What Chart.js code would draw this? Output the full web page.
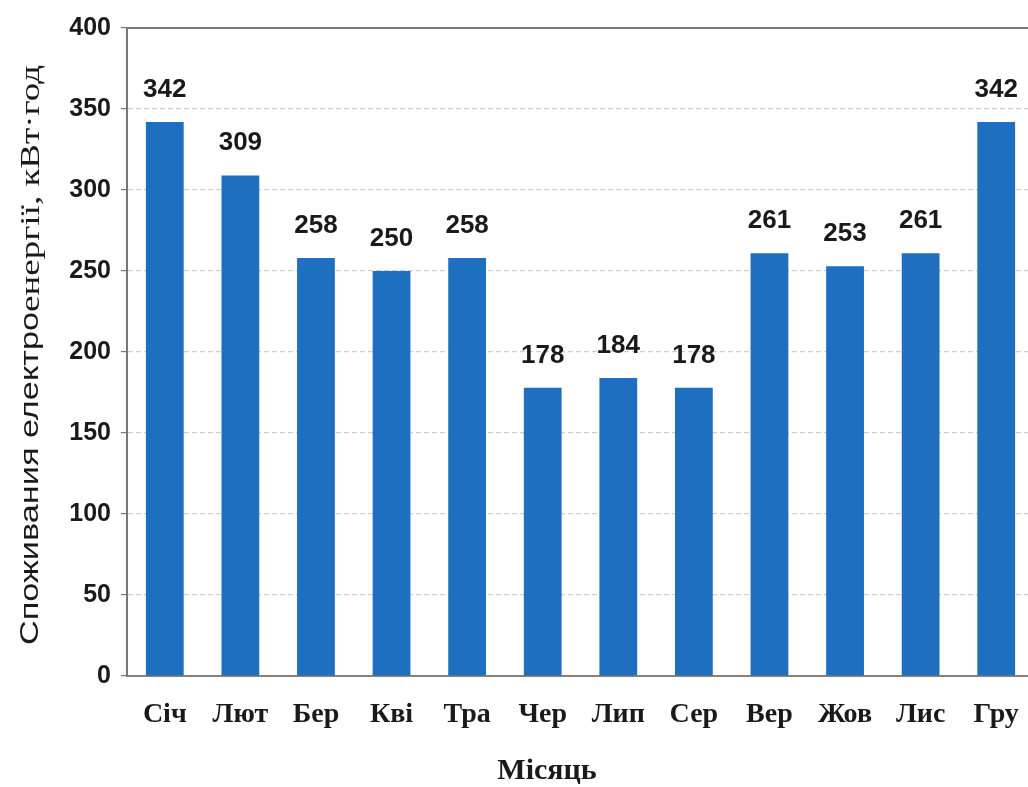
<!DOCTYPE html>
<html lang="uk">
<head>
<meta charset="utf-8">
<title>Споживання електроенергії за місяцями</title>
<script src="https://cdn.jsdelivr.net/npm/chart.js@4/dist/chart.umd.min.js"></script>
<style>
  html, body { margin: 0; padding: 0; background: #ffffff; overflow: hidden; }
  #wrap { width: 1036px; height: 787px; }
</style>
</head>
<body>
<div id="wrap"><canvas id="chart" width="1036" height="787"></canvas></div>
<script>
// Monthly electricity use, kWh
const months = ['Січ', 'Лют', 'Бер', 'Кві', 'Тра', 'Чер', 'Лип', 'Сер', 'Вер', 'Жов', 'Лис', 'Гру'];
const consumption = [342, 309, 258, 250, 258, 178, 184, 178, 261, 253, 261, 342];
const yTicks = [0, 50, 100, 150, 200, 250, 300, 350, 400];

const yTitleSans = 'Споживания електро';
const yTitleSerif = 'енергії, кВт·год';
const xTitle = 'Місяць';

const SANS = '"Liberation Sans", Arial, sans-serif';
const SERIF = '"Liberation Serif", "Times New Roman", serif';
const INK = '#1a1a1a';
const BAR_BLUE = '#1f6fc1';

// Numbers above each bar
const valueLabels = {
  id: 'valueLabels',
  afterDatasetsDraw(chart) {
    const ctx = chart.ctx;
    const meta = chart.getDatasetMeta(0);
    ctx.save();
    ctx.font = 'bold 26px ' + SANS;
    ctx.fillStyle = INK;
    ctx.textAlign = 'center';
    ctx.textBaseline = 'alphabetic';
    meta.data.forEach((bar, i) => {
      ctx.fillText(String(chart.data.datasets[0].data[i]), bar.x, bar.y - 25);
    });
    ctx.restore();
  }
};

// Axis titles: the vertical one is set in two typefaces, read bottom to top,
// and stretched along its length to run from 645px up to 65px
const axisTitles = {
  id: 'axisTitles',
  afterDraw(chart) {
    const ctx = chart.ctx;
    ctx.save();
    ctx.fillStyle = INK;

    ctx.textAlign = 'center';
    ctx.textBaseline = 'middle';
    ctx.font = 'bold 30px ' + SERIF;
    ctx.fillText(xTitle, 547, 771);

    const fSans = '25px ' + SANS;
    const fSerif = '27px ' + SERIF;
    ctx.font = fSans;
    const w1 = ctx.measureText(yTitleSans).width;
    ctx.font = fSerif;
    const w2 = ctx.measureText(yTitleSerif).width;
    const span = 580;
    const stretch = span / (w1 + w2);

    ctx.translate(31, 355);
    ctx.rotate(-Math.PI / 2);
    ctx.scale(stretch, 1);
    ctx.textAlign = 'left';
    const x0 = -(w1 + w2) / 2;
    ctx.font = fSans;
    ctx.fillText(yTitleSans, x0, 0);
    ctx.font = fSerif;
    ctx.fillText(yTitleSerif, x0 + w1, 1);
    ctx.restore();
  }
};

// Frame line along the top of the plot
const topFrame = {
  id: 'topFrame',
  afterDraw(chart) {
    const { ctx, chartArea } = chart;
    ctx.save();
    ctx.strokeStyle = '#7a7a7a';
    ctx.lineWidth = 2;
    ctx.beginPath();
    ctx.moveTo(chartArea.left, chartArea.top);
    ctx.lineTo(chartArea.right, chartArea.top);
    ctx.stroke();
    ctx.restore();
  }
};

new Chart(document.getElementById('chart'), {
  type: 'bar',
  data: {
    labels: months,
    datasets: [{
      data: consumption,
      backgroundColor: BAR_BLUE,
      borderWidth: 0,
      barPercentage: 0.5,
      categoryPercentage: 1.0
    }]
  },
  options: {
    responsive: false,
    animation: false,
    devicePixelRatio: 1,
    layout: { padding: { top: 28, right: 2, bottom: 0, left: 0 } },
    plugins: {
      legend: { display: false },
      tooltip: { enabled: false }
    },
    scales: {
      x: {
        grid: { display: false, drawTicks: false },
        border: { display: true, color: '#8a8078', width: 2 },
        ticks: {
          font: { family: SERIF, size: 28, weight: 'bold' },
          color: INK,
          padding: 22,
          maxRotation: 0,
          autoSkip: false
        },
        afterFit(scale) {
          scale.height = 111;
          scale.paddingLeft = 0;
          scale.paddingRight = 0;
        }
      },
      y: {
        min: 0,
        max: 400,
        afterBuildTicks(scale) { scale.ticks = yTicks.map(v => ({ value: v })); },
        grid: {
          color: '#cfcfcf',
          lineWidth: 1.2,
          tickLength: 6,
          tickColor: '#777777',
          tickBorderDash: [],
          drawOnChartArea: true
        },
        border: { display: true, color: '#777777', width: 2, dash: [5, 3] },
        ticks: {
          font: { family: SANS, size: 25, weight: 'bold' },
          color: INK,
          padding: 10
        },
        afterFit(scale) { scale.width = 127; }
      }
    }
  },
  plugins: [valueLabels, axisTitles, topFrame]
});
</script>
</body>
</html>
